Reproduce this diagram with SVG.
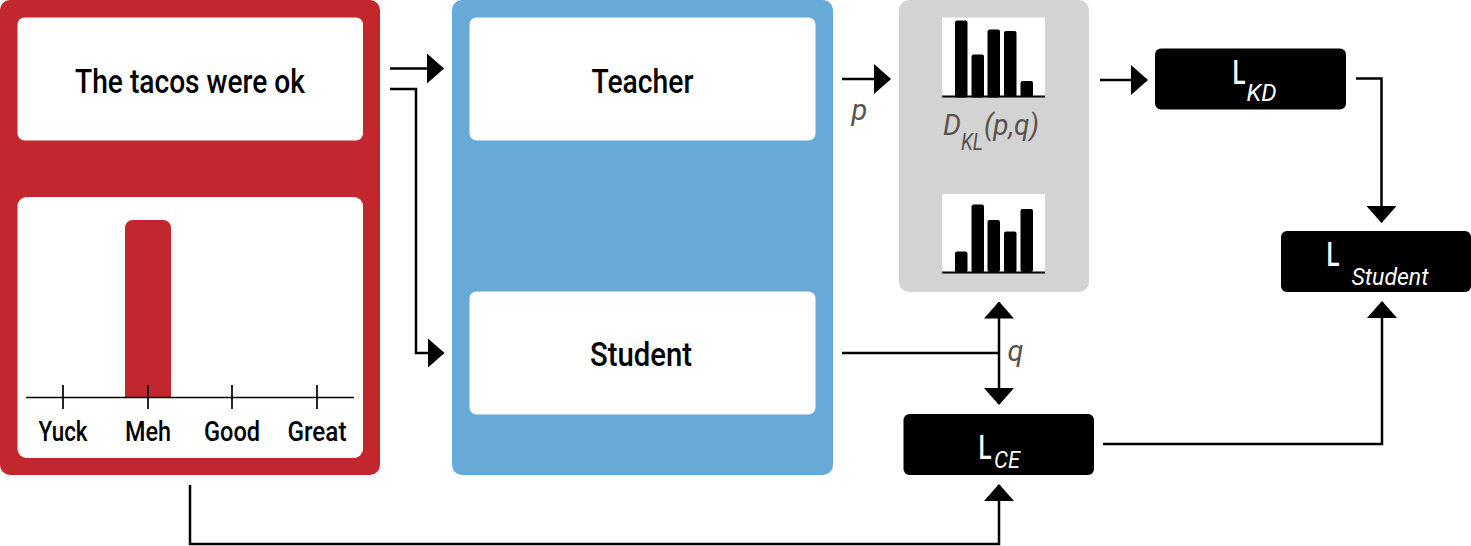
<svg xmlns="http://www.w3.org/2000/svg" width="1471" height="546" viewBox="0 0 1471 546">
<style>
  .lbl { font-family: Roboto, "Liberation Sans", Arial, sans-serif; font-weight: 500; fill: #000; }
  .gi { font-family: Roboto, "Liberation Sans", Arial, sans-serif; font-style: italic; fill: #58534e; font-size: 29px; }
  .wl { font-family: Roboto, "Liberation Sans", Arial, sans-serif; font-weight: 500; fill: #fff; }
  .big { font-size: 34px; font-style: normal; }
  .sub { font-style: italic; font-weight: 400; font-size: 23px; }
  .conn { fill: none; stroke: #000; stroke-width: 2.5; }
  .bar { fill: #000; }
  .whitebox { fill: #fff; }
  .loss { fill: #000; }
</style>
<defs>
  <marker id="ah" markerUnits="userSpaceOnUse" markerWidth="17" markerHeight="30" refX="16" refY="15" orient="auto-start-reverse">
    <path d="M0,0 L17,15 L0,30 Z" fill="#000"/>
  </marker>
</defs>
<rect width="1471" height="546" fill="#fff"/>

<g id="input">
  <rect x="0" y="0" width="380" height="475" rx="10" fill="#c1272d"/>
  <rect class="whitebox" x="17.5" y="17.5" width="345.5" height="123" rx="7"/>
  <text class="lbl" x="190" y="93" font-size="34" text-anchor="middle" textLength="230" lengthAdjust="spacingAndGlyphs">The tacos were ok</text>
  <rect class="whitebox" x="17.5" y="197" width="345.5" height="261" rx="9"/>
  <rect x="125" y="220" width="46" height="178" rx="8" fill="#c1272d"/>
  <rect x="125" y="380" width="46" height="18" fill="#c1272d"/>
  <g stroke="#000" stroke-width="1.7">
    <line x1="26" y1="397.5" x2="354" y2="397.5"/>
    <line x1="63" y1="385" x2="63" y2="409"/>
    <line x1="148" y1="385" x2="148" y2="409"/>
    <line x1="232" y1="385" x2="232" y2="409"/>
    <line x1="317" y1="385" x2="317" y2="409"/>
  </g>
  <text class="lbl" x="63" y="441" font-size="28" text-anchor="middle" textLength="49" lengthAdjust="spacingAndGlyphs">Yuck</text>
  <text class="lbl" x="148" y="441" font-size="28" text-anchor="middle" textLength="46" lengthAdjust="spacingAndGlyphs">Meh</text>
  <text class="lbl" x="232" y="441" font-size="28" text-anchor="middle" textLength="56" lengthAdjust="spacingAndGlyphs">Good</text>
  <text class="lbl" x="317" y="441" font-size="28" text-anchor="middle" textLength="59" lengthAdjust="spacingAndGlyphs">Great</text>
</g>

<g id="models">
  <rect x="452" y="0" width="381" height="475" rx="10" fill="#67aad7"/>
  <g id="teacher">
    <rect class="whitebox" x="469.5" y="17.5" width="346" height="123" rx="7"/>
    <text class="lbl" x="642.5" y="93" font-size="34" text-anchor="middle" textLength="102" lengthAdjust="spacingAndGlyphs">Teacher</text>
  </g>
  <g id="student">
    <rect class="whitebox" x="469.5" y="291.5" width="346" height="123" rx="7"/>
    <text class="lbl" x="641" y="366" font-size="34" text-anchor="middle" textLength="102" lengthAdjust="spacingAndGlyphs">Student</text>
  </g>
</g>

<g id="distributions">
  <rect x="899" y="0" width="190" height="292" rx="10" fill="#d3d3d3"/>
  <rect class="whitebox" x="942" y="17.5" width="103" height="79"/>
  <rect class="bar" x="955" y="20.5" width="12.5" height="77" rx="2"/>
  <rect class="bar" x="971.5" y="54.5" width="12.5" height="43" rx="2"/>
  <rect class="bar" x="987.5" y="29.5" width="12.5" height="68" rx="2"/>
  <rect class="bar" x="1004" y="31" width="12.5" height="66" rx="2"/>
  <rect class="bar" x="1020.5" y="81" width="12.5" height="16" rx="2"/>
  <line x1="942" y1="96.5" x2="1045" y2="96.5" stroke="#000" stroke-width="2"/>
  <text class="gi"><tspan x="943" y="135" textLength="18" lengthAdjust="spacingAndGlyphs">D</tspan><tspan x="961" y="150" font-size="23" textLength="22" lengthAdjust="spacingAndGlyphs">KL</tspan><tspan x="984" y="135" textLength="55" lengthAdjust="spacingAndGlyphs">(p,q)</tspan></text>

  <rect class="whitebox" x="942" y="194" width="103" height="78"/>
  <rect class="bar" x="955" y="251.5" width="12.5" height="21" rx="2"/>
  <rect class="bar" x="971.5" y="204.5" width="12.5" height="68" rx="2"/>
  <rect class="bar" x="987.5" y="220" width="12.5" height="52" rx="2"/>
  <rect class="bar" x="1004" y="231.5" width="12.5" height="41" rx="2"/>
  <rect class="bar" x="1020.5" y="209" width="12.5" height="63" rx="2"/>
  <line x1="942" y1="272.5" x2="1045" y2="272.5" stroke="#000" stroke-width="2"/>
</g>

<g id="lkd">
  <rect class="loss" x="1155" y="48.5" width="191" height="61" rx="6"/>
  <text class="wl"><tspan class="big" x="1232.5" y="83.5" textLength="13" lengthAdjust="spacingAndGlyphs">L</tspan><tspan class="sub" x="1246.5" y="101" textLength="30" lengthAdjust="spacingAndGlyphs">KD</tspan></text>
</g>

<g id="lstudent">
  <rect class="loss" x="1281" y="231" width="190" height="61" rx="6"/>
  <text class="wl"><tspan class="big" x="1326.5" y="266" textLength="13" lengthAdjust="spacingAndGlyphs">L</tspan><tspan class="sub" x="1351.5" y="284.5" textLength="77" lengthAdjust="spacingAndGlyphs">Student</tspan></text>
</g>

<g id="lce">
  <rect class="loss" x="903.5" y="414" width="190.5" height="61" rx="6"/>
  <text class="wl"><tspan class="big" x="978.5" y="458.5" textLength="13" lengthAdjust="spacingAndGlyphs">L</tspan><tspan class="sub" x="994" y="467.5" textLength="26" lengthAdjust="spacingAndGlyphs">CE</tspan></text>
</g>

<g id="connectors">
  <path class="conn" d="M390,68.5 H443" marker-end="url(#ah)"/>
  <path class="conn" d="M390,89 H416 V353 H443.5" marker-end="url(#ah)"/>
  <path class="conn" d="M842,79 H890" marker-end="url(#ah)"/>
  <path class="conn" d="M1100,80 H1147" marker-end="url(#ah)"/>
  <path class="conn" d="M1356,78.5 H1381.5 V222" marker-end="url(#ah)"/>
  <path class="conn" d="M1103,444 H1382 V302" marker-end="url(#ah)"/>
  <path class="conn" d="M842,353 H999"/>
  <path class="conn" d="M999,302.5 V404" marker-start="url(#ah)" marker-end="url(#ah)"/>
  <path class="conn" d="M190,485 V544 H999 V485" marker-end="url(#ah)"/>
  <text class="gi" x="851.5" y="120">p</text>
  <text class="gi" x="1007.5" y="361">q</text>
</g>
</svg>
